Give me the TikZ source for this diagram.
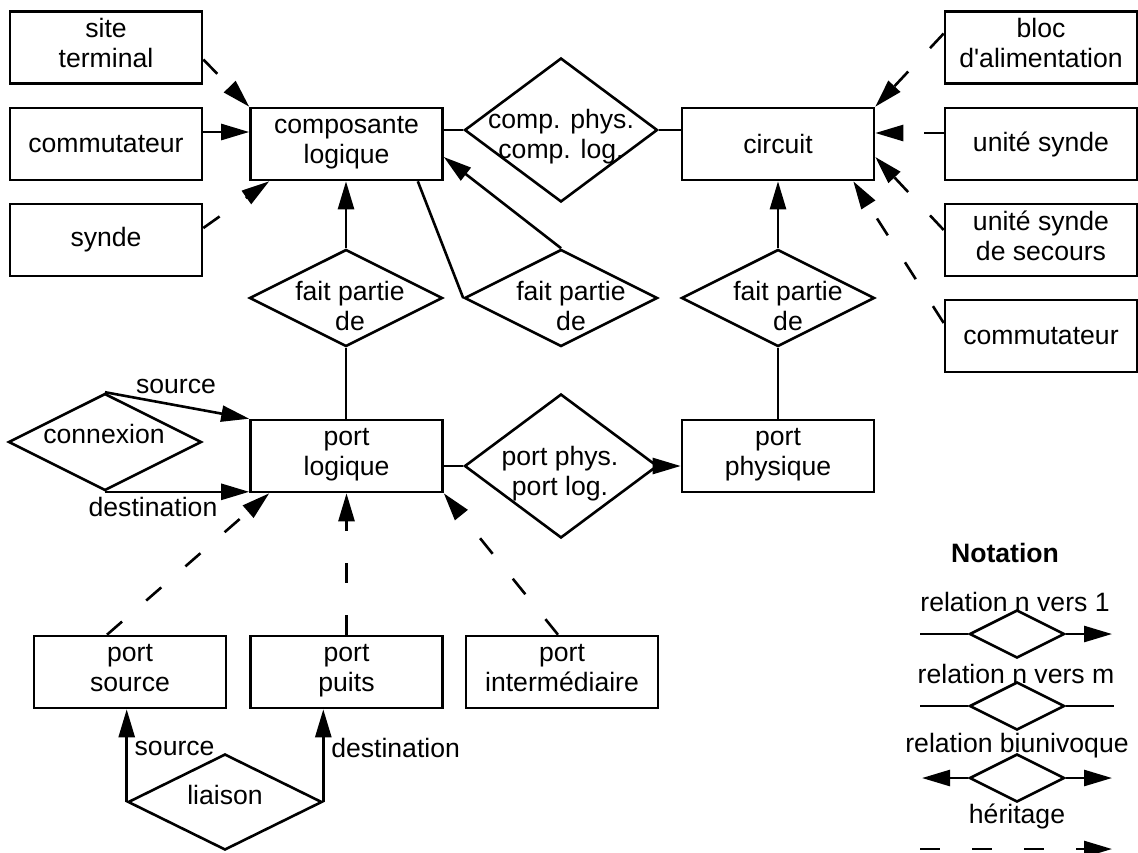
\documentclass[tikz,border=0pt]{standalone}
\usepackage{fontspec}
\setmainfont{Liberation Sans}
\usetikzlibrary{shapes.geometric,arrows.meta}

\begin{document}
\begin{tikzpicture}[x=0.5pt, y=-0.5pt, >={Triangle[length=14pt,width=8pt]},
    every node/.style={font=\fontsize{13.3}{15}\selectfont, align=center},
    box/.style={draw, rectangle, line width=1.3pt, minimum width=96pt, minimum height=36pt, inner sep=0pt},
    box2/.style={box, execute at end node=\strut},
    rel/.style={draw, diamond, line width=1.3pt, minimum width=96.5pt, minimum height=48.5pt, inner sep=0pt},
    bigrel/.style={rel, minimum height=72pt},
    smallrel/.style={rel, minimum width=47.5pt, minimum height=24pt},
    lien/.style={line width=1.3pt},
    herit/.style={lien, dash pattern=on 10pt off 16pt, ->}]
    \useasboundingbox (0,0) rectangle (1138,852);

    % entites de gauche
    \node[box2] (siteT) at (106,47.5) {site\\terminal};
    \node[box] (commutL) at (106,144) {commutateur};
    \node[box] (synde) at (106,240) {synde};

    % composante logique et circuit
    \node[box2] (compLog) at (346.5,144) {composante\\logique};
    \node[bigrel] (cpcl) at (561,130) {};
    \node (cpcl-t) at (561,137) {comp. phys.\\comp. log.};
    \node[box] (circuit) at (778,144) {circuit};

    % entites de droite
    \node[box2] (bloc) at (1041,47.5) {bloc\\d\textquotesingle alimentation};
    \node[box] (unite) at (1041,144) {unité synde};
    \node[box2] (secours) at (1041,240) {unité synde\\de secours};
    \node[box] (commutR) at (1041,336) {commutateur};

    % fait partie de
    \node[rel] (fpL) at (346,298) {};
    \node (fpL-t) at (350,306) {fait partie\\de};
    \node[rel] (fpM) at (561,298) {};
    \node (fpM-t) at (571,306) {fait partie\\de};
    \node[rel] (fpR) at (778,298) {};
    \node (fpR-t) at (788,306) {fait partie\\de};

    % ports
    \node[rel] (conn) at (105,442) {};
    \node (conn-t) at (104,434) {connexion};
    \node[box2] (portLog) at (346.5,456) {port\\logique};
    \node[bigrel] (ppPl) at (561,466) {};
    \node (ppPl-t) at (560,474) {port phys.\\port log.};
    \node[box2] (portPhys) at (778,456) {port\\physique};

    \node[box2] (portSrc) at (130,672) {port\\source};
    \node[box2] (portPuits) at (346.5,672) {port\\puits};
    \node[box2] (portInt) at (562,672) {port\\intermédiaire};
    \node[rel, minimum width=97pt, minimum height=48pt] (liaison) at (225,802) {};
    \node (liaison-t) at (225,795) {liaison};

    % heritage vers composante logique
    \draw[herit] (siteT.-7) -- (compLog.north west);
    \draw[herit] ([yshift=6pt]commutL.east) -- ([yshift=6pt]compLog.west);
    \draw[herit] ([yshift=6pt]synde.east) -- ([xshift=10pt]compLog.south west);

    % comp. phys. / comp. log.
    \draw[lien] (cpcl.west -| compLog.east) -- (cpcl.west);
    \draw[lien] (cpcl.east) -- (cpcl.east -| circuit.west);

    % heritage vers circuit
    \draw[herit] ([yshift=7pt]bloc.west) -- (circuit.north east);
    \draw[herit] ([yshift=5.5pt]unite.west) -- ([yshift=5.5pt]circuit.east);
    \draw[herit] ([yshift=5pt]secours.west) -- ([yshift=-6.5pt]circuit.east);
    \draw[herit] ([yshift=6.5pt]commutR.west) -- ([xshift=-11pt]circuit.south east);

    % fait partie de
    \draw[lien, ->] (fpL.north) -- (fpL.north |- compLog.south);
    \draw[lien] (fpL.south) -- (fpL.south |- portLog.north);
    \draw[lien, ->] (fpM.north) -- ([yshift=-6.5pt]compLog.east);
    \draw[lien] ([xshift=-13pt]compLog.south east) -- (fpM.west);
    \draw[lien, ->] (fpR.north) -- (circuit.south);
    \draw[lien] (fpR.south) -- (portPhys.north);

    % connexion
    \draw[lien, ->] (conn.north) -- (portLog.north west);
    \draw[lien, ->] (conn.south) -- (conn.south -| portLog.west);
    \node (srcA) at (176,386) {source};
    \node (dstA) at (153,507) {destination};

    % port phys. / port log.
    \draw[lien] (ppPl.west -| portLog.east) -- (ppPl.west);
    \draw[lien, ->] (ppPl.east) -- (ppPl.east -| portPhys.west);

    % heritage vers port logique
    \draw[herit] ([xshift=-11.5pt]portSrc.north) -- ([xshift=10pt]portLog.south west);
    \draw[herit] (portPuits.north) -- (portLog.south);
    \draw[herit] ([xshift=-2pt]portInt.north) -- (portLog.south east);

    % liaison
    \draw[lien, ->] (liaison.west) -- (liaison.west |- portSrc.south)
        node[pos=0.58, right] (lsrc) {source};
    \draw[lien, ->] (liaison.east) -- (liaison.east |- portPuits.south)
        node[pos=0.58, right] (ldst) {destination};

    % notation
    \node[font=\bfseries\fontsize{13.3}{15}\selectfont] (notation) at (1005,553) {Notation};

    \node (n1) at (1015,602) {relation n vers 1};
    \node[smallrel] (d1) at (1017,634) {};
    \coordinate (d1a) at (920,634);
    \coordinate (d1b) at (1112,634);
    \draw[lien] (d1a) -- (d1.west);
    \draw[lien, ->] (d1.east) -- (d1b);

    \node (n2) at (1016,674) {relation n vers m};
    \node[smallrel] (d2) at (1017,706) {};
    \coordinate (d2a) at (920,706);
    \coordinate (d2b) at (1114,706);
    \draw[lien] (d2a) -- (d2.west);
    \draw[lien] (d2.east) -- (d2b);

    \node (n3) at (1017,746) {relation biunivoque};
    \node[smallrel] (d3) at (1017,778) {};
    \coordinate (d3a) at (922,778);
    \coordinate (d3b) at (1112,778);
    \draw[lien, ->] (d3.west) -- (d3a);
    \draw[lien, ->] (d3.east) -- (d3b);

    \node (n4) at (1017,816) {héritage};
    \coordinate (h1) at (920,849);
    \coordinate (h2) at (1112,849);
    \draw[herit] (h1) -- (h2);
\end{tikzpicture}
\end{document}
